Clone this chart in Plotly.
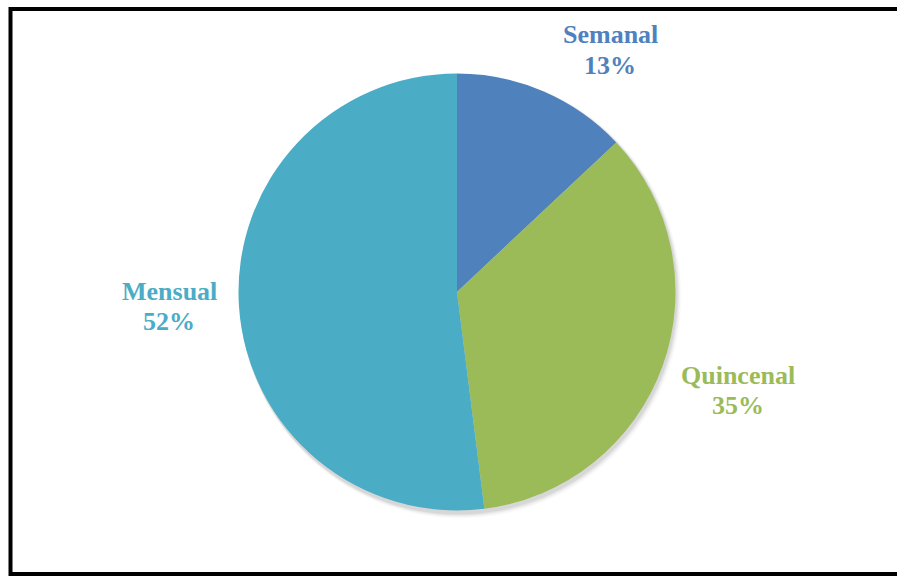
import plotly.graph_objects as go

# Payment frequency shares
categories = ["Semanal", "Quincenal", "Mensual"]
shares = [13, 35, 52]
colors = ["#4F81BD", "#9BBB59", "#4BACC6"]

W, H = 897, 576
cx, cy, r = 457, 292, 218.5  # pie centre / radius in pixels

def px_x(x):
    return x / W

def px_y(y):
    return 1 - y / H

fig = go.Figure()

fig.add_trace(go.Pie(
    labels=categories,
    values=shares,
    sort=False,
    direction="clockwise",
    rotation=0,
    marker=dict(colors=colors, line=dict(width=0)),
    textinfo="none",
    hoverinfo="label+percent",
    showlegend=False,
    domain=dict(x=[px_x(cx - r), px_x(cx + r)],
                y=[px_y(cy + r), px_y(cy - r)]),
))

shapes = []
# soft drop shadow behind the pie
for i, op in enumerate([0.05, 0.04, 0.03, 0.02, 0.015]):
    g = 1 + i
    shapes.append(dict(
        type="circle", xref="paper", yref="paper", layer="below",
        x0=px_x(cx - r + 1), x1=px_x(cx + r + 1 + g),
        y0=px_y(cy + r + 3 + g), y1=px_y(cy - r + 1),
        fillcolor=f"rgba(0,0,0,{op})", line=dict(width=0),
    ))
# chart frame
shapes.append(dict(
    type="rect", xref="paper", yref="paper", layer="above",
    x0=px_x(10.5), x1=px_x(905), y0=px_y(574), y1=px_y(9),
    line=dict(color="black", width=4), fillcolor="rgba(0,0,0,0)",
))

# label block centres (pixels)
label_pos = {"Semanal": (610, 50), "Quincenal": (738, 390), "Mensual": (169, 306)}
annotations = []
for cat, val, col in zip(categories, shares, colors):
    x, y = label_pos[cat]
    for txt, dy in ((cat, -15), (f"{val}%", 15)):
        annotations.append(dict(
            x=px_x(x), y=px_y(y + dy), xref="paper", yref="paper",
            text=f"<b>{txt}</b>", showarrow=False,
            xanchor="center", yanchor="middle",
            font=dict(family="Liberation Serif, Times New Roman, serif",
                      size=26, color=col),
        ))

fig.update_layout(
    width=W, height=H,
    margin=dict(l=0, r=0, t=0, b=0),
    paper_bgcolor="white",
    plot_bgcolor="white",
    shapes=shapes,
    annotations=annotations,
)

fig.write_html("out.html")
